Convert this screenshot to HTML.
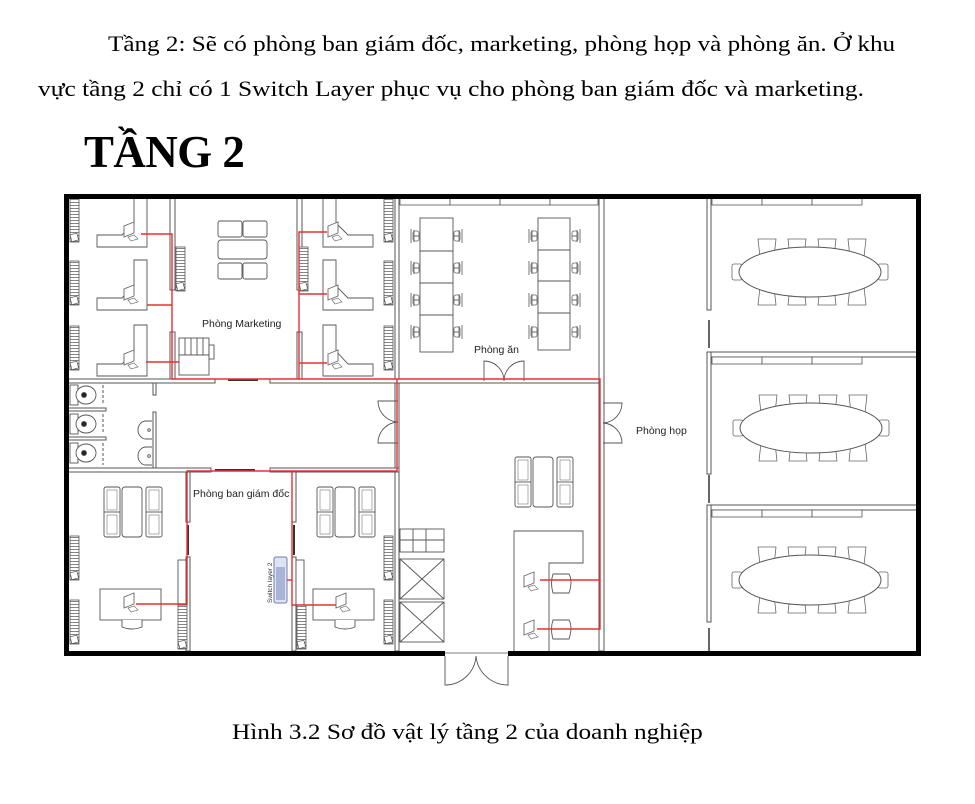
<!DOCTYPE html>
<html><head><meta charset="utf-8">
<style>
html,body{margin:0;padding:0;background:#fff;}
body{width:975px;height:804px;position:relative;overflow:hidden;}
.t{position:absolute;font-family:"Liberation Serif",serif;color:#000;white-space:nowrap;transform-origin:0 0;}
svg{position:absolute;left:0;top:0;}
</style></head><body>
<div class="t" style="left:108px;top:31px;font-size:22px;transform:scaleX(1.142);">Tầng 2: Sẽ có phòng ban giám đốc, marketing, phòng họp và phòng ăn. Ở khu</div>
<div class="t" style="left:38px;top:76px;font-size:22px;transform:scaleX(1.155);">vực tầng 2 chỉ có 1 Switch Layer phục vụ cho phòng ban giám đốc và marketing.</div>
<div class="t" style="left:84px;top:125px;font-size:46px;font-weight:bold;letter-spacing:-0.5px;transform:scaleX(0.975);">TẦNG 2</div>
<div class="t" style="left:232px;top:719px;font-size:22px;transform:scaleX(1.15);">Hình 3.2 Sơ đồ vật lý tầng 2 của doanh nghiệp</div>

<svg width="975" height="804" viewBox="0 0 975 804" xmlns="http://www.w3.org/2000/svg">
<defs>
<pattern id="st" width="10" height="3" patternUnits="userSpaceOnUse"><rect width="10" height="3" fill="#fff"/><line x1="0" y1="1.5" x2="10" y2="1.5" stroke="#666" stroke-width="0.8"/></pattern>
<g id="shelf"><rect x="0" y="0" width="9" height="44" fill="url(#st)" stroke="#555" stroke-width="0.8"/><rect x="1" y="36" width="7" height="7" fill="#fff" stroke="#555" stroke-width="0.7" transform="rotate(-15 4 40)"/></g>
<g id="mon"><path d="M0,4 L10,0 L10,11 L0,15 Z" fill="#fff" stroke="#666" stroke-width="0.9"/><path d="M4,15 l6,-2 l4,4 l-7,2z" fill="#fff" stroke="#777" stroke-width="0.7"/></g>
<g id="cch"><path d="M0,0 h18 l-2,18 h-14 z" fill="#fff" stroke="#666" stroke-width="0.8"/></g>
<g id="conf">
<use href="#cch" x="-52" y="-33"/><use href="#cch" x="-22" y="-33"/><use href="#cch" x="8" y="-33"/><use href="#cch" x="38" y="-33"/>
<g transform="scale(1,-1)"><use href="#cch" x="-52" y="-33"/><use href="#cch" x="-22" y="-33"/><use href="#cch" x="8" y="-33"/><use href="#cch" x="38" y="-33"/></g>
<rect x="-78" y="-8" width="10" height="16" rx="2" fill="#fff" stroke="#666" stroke-width="0.8"/>
<rect x="68" y="-8" width="10" height="16" rx="2" fill="#fff" stroke="#666" stroke-width="0.8"/>
<ellipse cx="0" cy="0" rx="71" ry="25" fill="#fff" stroke="#555" stroke-width="1"/>
</g>
<g id="sofa"><rect x="0" y="0" width="16" height="50" rx="2" fill="#fff" stroke="#555" stroke-width="0.9"/><line x1="0" y1="25" x2="16" y2="25" stroke="#555" stroke-width="0.9"/><rect x="3" y="3" width="10" height="20" fill="none" stroke="#777" stroke-width="0.6"/><rect x="3" y="28" width="10" height="19" fill="none" stroke="#777" stroke-width="0.6"/></g>
<g id="dchair"><path d="M0,0 v14 M3,1 v12 M3,7 h5" fill="none" stroke="#666" stroke-width="0.9"/><rect x="2" y="2" width="6" height="10" rx="2" fill="none" stroke="#666" stroke-width="0.8"/></g>
</defs>

<g fill="none" stroke="#555" stroke-width="1">
<rect x="395" y="198" width="4" height="453" fill="#fff"/>
<rect x="599" y="198" width="5" height="453" fill="#fff"/>
<rect x="68" y="379" width="147" height="4" fill="#fff"/>
<rect x="270" y="379" width="329" height="4" fill="#fff"/>
<rect x="68" y="468" width="143" height="4" fill="#fff"/>
<rect x="270" y="468" width="129" height="4" fill="#fff"/>
<line x1="228" y1="380" x2="258" y2="380" stroke="#333" stroke-width="2"/>
<line x1="215" y1="470" x2="255" y2="470" stroke="#333" stroke-width="2"/>
<rect x="170" y="198" width="5" height="92" fill="#fff"/>
<rect x="170" y="332" width="5" height="47" fill="#fff"/>
<rect x="297" y="198" width="5" height="92" fill="#fff"/>
<rect x="297" y="332" width="5" height="47" fill="#fff"/>
<rect x="186" y="472" width="4" height="50" fill="#fff"/>
<rect x="186" y="557" width="4" height="94" fill="#fff"/>
<rect x="292" y="472" width="4" height="50" fill="#fff"/>
<rect x="292" y="557" width="4" height="94" fill="#fff"/>
<line x1="188" y1="525" x2="188" y2="555" stroke="#333" stroke-width="2"/>
<line x1="294" y1="525" x2="294" y2="555" stroke="#333" stroke-width="2"/>
<rect x="153" y="383" width="3" height="12" fill="#fff"/>
<rect x="153" y="412" width="3" height="56" fill="#fff"/>
<rect x="68" y="408" width="38" height="3" fill="#fff"/>
<rect x="68" y="437" width="38" height="3" fill="#fff"/>
<line x1="103" y1="385" x2="103" y2="405" stroke-dasharray="3 2"/>
<line x1="103" y1="414" x2="103" y2="434" stroke-dasharray="3 2"/>
<line x1="103" y1="443" x2="103" y2="465" stroke-dasharray="3 2"/>
<rect x="707" y="198" width="4" height="112" fill="#fff"/>
<rect x="707" y="352" width="4" height="122" fill="#fff"/>
<rect x="707" y="505" width="4" height="117" fill="#fff"/>
<line x1="709" y1="320" x2="709" y2="348" stroke="#333" stroke-width="1.5"/>
<line x1="709" y1="475" x2="709" y2="503" stroke="#333" stroke-width="1.5"/>
<line x1="709" y1="628" x2="709" y2="651" stroke="#333" stroke-width="1.5"/>
<rect x="711" y="352" width="206" height="5" fill="#fff"/>
<rect x="711" y="505" width="206" height="5" fill="#fff"/>
</g>

<g fill="#fff" stroke="#555" stroke-width="0.8">
<rect x="400" y="198" width="50" height="7"/><rect x="450" y="198" width="50" height="7"/><rect x="500" y="198" width="50" height="7"/><rect x="550" y="198" width="48" height="7"/>
<rect x="712" y="198" width="50" height="7"/><rect x="762" y="198" width="50" height="7"/><rect x="812" y="198" width="50" height="7"/>
<rect x="712" y="357" width="50" height="7"/><rect x="762" y="357" width="50" height="7"/><rect x="812" y="357" width="50" height="7"/>
<rect x="712" y="510" width="50" height="7"/><rect x="762" y="510" width="50" height="7"/><rect x="812" y="510" width="50" height="7"/>
</g>

<use href="#shelf" x="70" y="198"/><use href="#shelf" x="70" y="261"/><use href="#shelf" x="70" y="326"/>
<use href="#shelf" x="176" y="247"/><use href="#shelf" x="299" y="247"/>
<use href="#shelf" x="384" y="198"/><use href="#shelf" x="384" y="261"/><use href="#shelf" x="384" y="326"/>
<use href="#shelf" x="70" y="536"/><use href="#shelf" x="70" y="600"/>
<use href="#shelf" x="178" y="605"/><use href="#shelf" x="297" y="605"/>
<use href="#shelf" x="384" y="536"/><use href="#shelf" x="384" y="600"/>

<g fill="#fff" stroke="#555" stroke-width="0.9">
<path d="M134,198 H147 V247 H97 V235 H122 L134,223 Z"/>
<path d="M134,260 H147 V310 H97 V298 H122 L134,286 Z"/>
<path d="M134,325 H147 V376 H97 V364 H122 L134,351 Z"/>
<path d="M336,198 H323 V247 H373 V235 H348 L336,223 Z"/>
<path d="M336,260 H323 V310 H373 V298 H348 L336,286 Z"/>
<path d="M336,325 H323 V376 H373 V364 H348 L336,351 Z"/>
</g>
<use href="#mon" x="124" y="222"/><use href="#mon" x="124" y="285"/><use href="#mon" x="124" y="350"/>
<use href="#mon" x="328" y="222"/><use href="#mon" x="328" y="285"/><use href="#mon" x="328" y="350"/>

<g fill="#fff" stroke="#555" stroke-width="0.9">
<rect x="218" y="221" width="24" height="16" rx="2"/><rect x="243" y="221" width="24" height="16" rx="2"/>
<rect x="218" y="240" width="49" height="19" rx="3"/>
<rect x="218" y="263" width="24" height="16" rx="2"/><rect x="243" y="263" width="24" height="16" rx="2"/>
<rect x="179" y="338" width="30" height="17"/>
<line x1="185" y1="338" x2="185" y2="355"/><line x1="191" y1="338" x2="191" y2="355"/><line x1="197" y1="338" x2="197" y2="355"/><line x1="203" y1="338" x2="203" y2="355"/>
<rect x="179" y="355" width="30" height="20"/>
<rect x="209" y="345" width="5" height="14"/>
</g>

<g fill="#fff" stroke="#555" stroke-width="0.9">
<rect x="420" y="218" width="33" height="134"/><line x1="420" y1="251" x2="453" y2="251"/><line x1="420" y1="283" x2="453" y2="283"/><line x1="420" y1="315" x2="453" y2="315"/>
<rect x="538" y="218" width="32" height="132"/><line x1="538" y1="250" x2="570" y2="250"/><line x1="538" y1="281" x2="570" y2="281"/><line x1="538" y1="313" x2="570" y2="313"/>
</g>
<g>
<use href="#dchair" x="411" y="229"/><use href="#dchair" x="411" y="261"/><use href="#dchair" x="411" y="293"/><use href="#dchair" x="411" y="325"/>
<g transform="translate(872,0) scale(-1,1)"><use href="#dchair" x="410" y="229"/><use href="#dchair" x="410" y="261"/><use href="#dchair" x="410" y="293"/><use href="#dchair" x="410" y="325"/></g>
<use href="#dchair" x="529" y="229"/><use href="#dchair" x="529" y="261"/><use href="#dchair" x="529" y="293"/><use href="#dchair" x="529" y="325"/>
<g transform="translate(1108,0) scale(-1,1)"><use href="#dchair" x="528" y="229"/><use href="#dchair" x="528" y="261"/><use href="#dchair" x="528" y="293"/><use href="#dchair" x="528" y="325"/></g>
</g>

<g fill="none" stroke="#555" stroke-width="0.9">
<path d="M484,381 V361 A20,20 0 0 1 504,381"/><path d="M524,381 V361 A20,20 0 0 0 504,381"/>
<path d="M398,401 H378 A21,21 0 0 0 398,422"/><path d="M398,443 H378 A21,21 0 0 1 398,422"/>
<path d="M603,403 H622 A20,20 0 0 1 603,423"/><path d="M603,443 H622 A20,20 0 0 0 603,423"/>
<path d="M445,656 V685 A31,31 0 0 0 476,656"/><path d="M508,656 V685 A32,32 0 0 1 476,656"/>
</g>

<g fill="#fff" stroke="#555" stroke-width="0.9">
<use href="#sofa" x="515" y="457"/><use href="#sofa" x="557" y="457"/>
<rect x="533" y="457" width="20" height="50" rx="3"/>
<path d="M514,651 V531 H583 V563 H549 V651" />
<rect x="400" y="529" width="44" height="23"/>
<line x1="413" y1="529" x2="413" y2="552"/><line x1="426" y1="529" x2="426" y2="552"/><line x1="400" y1="540" x2="444" y2="540"/>
<rect x="400" y="559" width="44" height="40"/><line x1="400" y1="559" x2="444" y2="599"/><line x1="444" y1="559" x2="400" y2="599"/>
<rect x="400" y="602" width="44" height="40"/><line x1="400" y1="602" x2="444" y2="642"/><line x1="444" y1="602" x2="400" y2="642"/>
<path d="M553,574 h16 q4,7 0,19 h-16 q-3,-10 0,-19z"/>
<path d="M553,620 h16 q4,7 0,19 h-16 q-3,-10 0,-19z"/>
</g>
<use href="#mon" x="524" y="572"/><use href="#mon" x="524" y="620"/>

<g fill="#fff" stroke="#555" stroke-width="0.9">
<rect x="70" y="385" width="8" height="20"/><ellipse cx="86" cy="395" rx="10" ry="9"/><circle cx="84" cy="395" r="2.5" fill="#222"/>
<rect x="70" y="414" width="8" height="20"/><ellipse cx="86" cy="424" rx="10" ry="9"/><circle cx="84" cy="424" r="2.5" fill="#222"/>
<rect x="70" y="443" width="8" height="20"/><ellipse cx="86" cy="453" rx="10" ry="9"/><circle cx="84" cy="453" r="2.5" fill="#222"/>
<path d="M152,421 H146 A8,9 0 0 0 146,439 H152"/><circle cx="149" cy="430" r="1.3"/>
<path d="M152,447 H146 A8,9 0 0 0 146,465 H152"/><circle cx="149" cy="456" r="1.3"/>
</g>

<g fill="#fff" stroke="#555" stroke-width="0.9">
<use href="#sofa" x="104" y="487"/><use href="#sofa" x="146" y="487"/><rect x="122" y="487" width="20" height="50" rx="3"/>
<rect x="100" y="589" width="61" height="31"/><path d="M122,620 v7 q10,4 20,0 v-7"/>
<use href="#sofa" x="317" y="487"/><use href="#sofa" x="359" y="487"/><rect x="335" y="487" width="20" height="50" rx="3"/>
<rect x="313" y="589" width="61" height="31"/><path d="M335,620 v7 q10,4 20,0 v-7"/>
<rect x="178" y="560" width="8" height="45"/>
<rect x="296" y="560" width="8" height="45"/>
</g>
<use href="#mon" x="124" y="593"/><use href="#mon" x="336" y="593"/>

<use href="#conf" x="0" y="0" transform="translate(810,272)"/>
<use href="#conf" x="0" y="0" transform="translate(811,428)"/>
<use href="#conf" x="0" y="0" transform="translate(810,580)"/>

<rect x="274" y="557" width="13" height="46" rx="2" fill="#dde3f0" stroke="#6b7fb5" stroke-width="1"/>
<g fill="#aab5d6"><rect x="276" y="567" width="9" height="33"/></g>
<text x="272" y="603" transform="rotate(-90 272 603)" font-family="Liberation Sans, sans-serif" font-size="6.5" fill="#333">Switch layer 2</text>

<g fill="none" stroke="#e53030" stroke-width="1.4">
<path d="M141,234 H172 V379 H600 V629 H537"/>
<path d="M147,305 H172"/><path d="M146,362 H179"/>
<path d="M327,232 H299 V379"/><path d="M299,294 H327"/><path d="M299,363 H327"/>
<path d="M540,580 H600"/>
<path d="M397,379 V471 H187 V604 H136"/>
<path d="M292,471 V605 H336"/><path d="M287,580 H292"/>
</g>

<g fill="#000">
<rect x="64" y="194" width="857" height="5"/>
<rect x="64" y="194" width="5" height="462"/>
<rect x="916" y="194" width="5" height="462"/>
<rect x="64" y="651" width="381" height="5"/>
<rect x="508" y="651" width="413" height="5"/>
</g>
<g fill="none" stroke="#555" stroke-width="0.8"><line x1="445" y1="653" x2="508" y2="653"/></g>

<g font-family="Liberation Sans, sans-serif" font-size="10.5" fill="#222">
<text x="202" y="327">Phòng Marketing</text>
<text x="474" y="353">Phòng ăn</text>
<text x="636" y="434">Phòng họp</text>
<text x="193" y="497">Phòng ban giám đốc</text>
</g>
</svg>
</body></html>
